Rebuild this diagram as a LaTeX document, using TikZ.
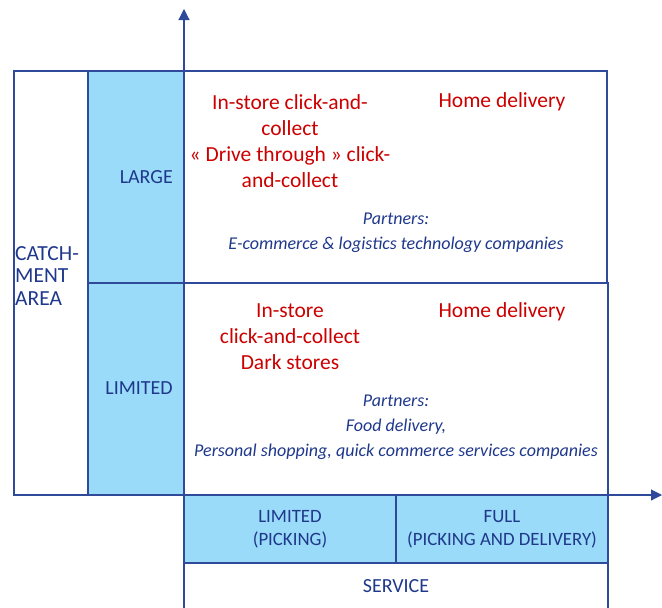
\documentclass[tikz,border=0pt]{standalone}
\usepackage{fontspec}
\setmainfont{Carlito}
\usetikzlibrary{arrows.meta}
\definecolor{lineblue}{RGB}{47,74,155}
\definecolor{fillblue}{RGB}{153,219,248}
\definecolor{txtblue}{RGB}{31,56,140}
\definecolor{txtred}{RGB}{204,0,0}
\tikzset{
  cell/.style={draw=lineblue, line width=1.1pt},
  bluecell/.style={cell, fill=fillblue},
  redtxt/.style={text=txtred, align=center, font=\fontsize{21.5}{26}\selectfont, inner sep=0pt},
  captxt/.style={text=txtblue, align=center, font=\fontsize{20}{23}\selectfont, inner sep=0pt},
  bartxt/.style={captxt, font=\fontsize{18.8}{23}\selectfont},
  ittxt/.style={text=txtblue, align=center, font=\fontsize{18}{25}\selectfont\itshape, inner sep=0pt},
  axis/.style={draw=lineblue, line width=1.1pt, -{Triangle[length=11pt,width=11pt]}}
}
\begin{document}
\begin{tikzpicture}[x=1pt,y=-1pt]
\useasboundingbox (0,0) rectangle (662,608);
% cells
\draw[cell] (14,71) rectangle (88,495);
\draw[bluecell] (88,71) rectangle (184,283);
\draw[bluecell] (88,283) rectangle (184,495);
\draw[cell] (184,71) rectangle (607,283);
\draw[cell] (184,283) rectangle (608,495);
\draw[bluecell] (184,495) rectangle (396,563);
\draw[bluecell] (396,495) rectangle (608,563);
\draw[cell] (184,563) -- (184,608);
\draw[cell] (608,563) -- (608,608);
% axes
\coordinate (o) at (184,495);
\coordinate (ytip) at (184,9);
\coordinate (xtip) at (662,495);
\draw[axis] (o) -- (ytip);
\draw[axis] (o) -- (xtip);
% left labels
\node[captxt, align=left, anchor=north west, font=\fontsize{21.5}{22.5}\selectfont] (catch) at (15,246) {CATCH-\\MENT\\AREA};
\node[captxt, anchor=east] (large) at (173,177) {LARGE};
\node[captxt, anchor=east] (limited) at (173,388) {LIMITED};
% top cell
\node[redtxt] (t1) at (290,141) {In-store click-and-\\collect\\« Drive through » click-\\and-collect};
\node[redtxt] (t2) at (502,102) {Home delivery};
\node[ittxt] (t3) at (396,233) {Partners:\\E-commerce \& logistics technology companies};
% bottom cell
\node[redtxt] (b1) at (290,337) {In-store\\click-and-collect\\Dark stores};
\node[redtxt] (b2) at (502,312) {Home delivery};
\node[ittxt] (b3) at (396,427) {Partners:\\Food delivery,\\Personal shopping, quick commerce services companies};
% service bar
\node[bartxt] (s1) at (290,529.5) {LIMITED\\(PICKING)};
\node[bartxt] (s2) at (502,529.5) {FULL\\(PICKING AND DELIVERY)};
\node[captxt] (s3) at (396,586) {SERVICE};
\end{tikzpicture}
\end{document}
